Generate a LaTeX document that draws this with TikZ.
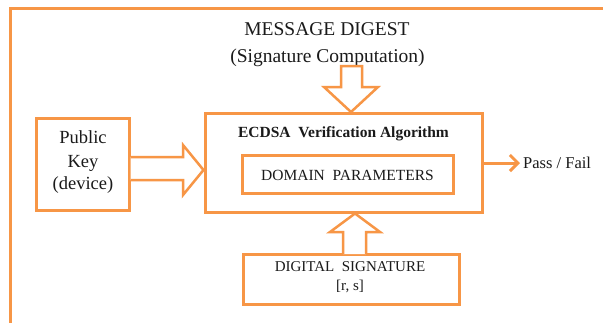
\documentclass[tikz,border=0pt]{standalone}
\usepackage{fontspec}
\setmainfont{Liberation Serif}
\usetikzlibrary{arrows.meta,calc}
\definecolor{org}{HTML}{F79646}
\definecolor{ink}{HTML}{1A1A1A}
\begin{document}
\begin{tikzpicture}[x=1pt,y=-1pt,
  box/.style={draw=org,line width=3pt,fill=white,inner sep=0pt,shape=rectangle},
  blockarrow/.style={draw=org,line width=2.5pt,fill=white,line join=miter},
  txt/.style={text=ink,anchor=base,inner sep=0pt,font=\fontsize{15}{18}\selectfont},
  title/.style={text=ink,anchor=base,inner sep=0pt,font=\fontsize{19.5}{22}\selectfont}]
\useasboundingbox (0,0) rectangle (603,322);
\clip (0,0) rectangle (603,322);
\fill[white] (0,0) rectangle (603,322);
% outer frame
\draw[org,line width=3pt] (10,400) -- (10,8) -- (700,8);
% boxes
\node[box,minimum width=93pt,minimum height=92pt] (pk) at (82.5,164) {};
\node[box,minimum width=277pt,minimum height=99pt] (main) at (343.5,162.5) {};
\node[box,minimum width=211pt,minimum height=38pt] (dom) at (347.5,174) {};
\node[box,minimum width=216pt,minimum height=50pt] (sig) at (351,279) {};
% titles
\node[title] (md) at (327,35) {MESSAGE DIGEST};
\node[title] (sc) at (327.5,62) {(Signature Computation)};
% texts
\node[txt,font=\fontsize{18.5}{20}\selectfont] (t1) at (83,143) {Public};
\node[txt,font=\fontsize{18.5}{20}\selectfont] (t2) at (83,167) {Key};
\node[txt,font=\fontsize{18.5}{20}\selectfont] (t3) at (83,189) {(device)};
\node[txt,font=\bfseries\fontsize{15.5}{18}\selectfont] (ecd) at (343.5,137) {ECDSA\ \ Verification Algorithm};
\node[txt,font=\fontsize{15.5}{18}\selectfont] (dp) at (347.5,180) {DOMAIN\ \ PARAMETERS};
\node[txt] (ds) at (350,271) {DIGITAL\ \ SIGNATURE};
\node[txt] (rs) at (350,290) {[r, s]};
\node[txt,anchor=base west,font=\fontsize{16.5}{18}\selectfont] (pf) at (523,168) {Pass / Fail};
% block arrows
\coordinate (ltip) at (main.west |- 0,170);
\draw[blockarrow] ($(pk.east)+(0,-7)$) -- (183,157) -- (183,145) -- (ltip) -- (183,195) -- (183,180) -- ($(pk.east)+(0,16)$);
\coordinate (ttip) at (351,112);
\draw[blockarrow] (341,66) -- (362,66) -- (362,87) -- (378,87) -- (ttip) -- (324,87) -- (341,87) -- cycle;
\coordinate (btip) at (main.south -| 355,0);
\draw[blockarrow] (343,254) -- (343,232) -- (330,232) -- (btip) -- (380,232) -- (366,232) -- (366,254);
% pass / fail arrow
\coordinate (pstart) at (main.east |- 0,163);
\draw[org,line width=3pt,-{Straight Barb[length=8pt,width=16pt]}] (pstart) -- ($(pf.west |- 0,163)+(-3,0)$);
\end{tikzpicture}
\end{document}
